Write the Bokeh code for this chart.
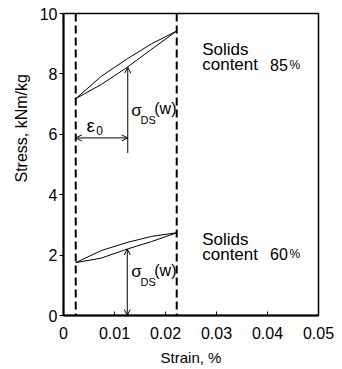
from bokeh.plotting import figure
from bokeh.models import Arrow, OpenHead, FixedTicker, Range1d, Span, Title
from bokeh.core.properties import value
from bokeh.embed import file_html
from bokeh.resources import INLINE

# ---- data ----
strain_ticks = [0, 0.01, 0.02, 0.03, 0.04, 0.05]
strain_tick_labels = ["0", "0.01", "0.02", "0.03", "0.04", "0.05"]
stress_ticks = [0, 2, 4, 6, 8, 10]

eps0 = 0.0024          # start strain (dashed line)
eps_end = 0.0222       # end strain (dashed line)
loop_strain = [0.0024, 0.0074, 0.0125, 0.0173, 0.0222]
s85_upper = [7.18, 7.92, 8.50, 9.00, 9.42]
s85_lower = [7.18, 7.65, 8.22, 8.82, 9.42]
s60_upper = [1.75, 2.15, 2.42, 2.62, 2.74]
s60_lower = [1.75, 1.90, 2.20, 2.45, 2.74]

arrow_strain = 0.0126
sigma85 = 8.22
sigma85_base = 5.38
eps_arrow_y = 5.88
sigma60 = 2.20

FONT = value("Liberation Sans")

p = figure(width=342, height=369, output_backend="svg", toolbar_location=None,
           x_range=Range1d(0, 0.05), y_range=Range1d(0, 10),
           min_border_left=63, min_border_right=24, min_border_top=13, min_border_bottom=54)
p.xgrid.visible = False
p.ygrid.visible = False
p.outline_line_color = "black"
p.outline_line_width = 1.5
p.background_fill_color = "white"
p.border_fill_color = "white"

# axes
p.xaxis.ticker = FixedTicker(ticks=strain_ticks)
p.xaxis.major_label_overrides = {t: l for t, l in zip(strain_ticks, strain_tick_labels)}
p.yaxis.ticker = FixedTicker(ticks=stress_ticks)
for ax in (p.xaxis[0], p.yaxis[0]):
    ax.axis_line_width = 2
    ax.axis_line_color = "black"
    ax.major_tick_line_color = "black"
    ax.major_tick_line_width = 1
    ax.minor_tick_line_color = None
    ax.major_label_text_font = "Liberation Sans"
    ax.major_label_text_font_size = "16px"
    ax.major_label_text_color = "black"
p.xaxis.major_tick_in = 4
p.xaxis.major_tick_out = 0
p.xaxis.major_label_standoff = 11
p.xaxis.axis_label = "Strain, %"
p.xaxis.axis_label_text_font = "Liberation Sans"
p.xaxis.axis_label_text_font_size = "15px"
p.xaxis.axis_label_text_font_style = "normal"
p.xaxis.axis_label_text_color = "black"
p.xaxis.axis_label_standoff = 7
p.yaxis.major_tick_in = 0
p.yaxis.major_tick_out = 4
p.yaxis.major_label_standoff = 2

ytitle = Title(text="Stress, kNm/kg", align="left", offset=133, standoff=14,
               text_font="Liberation Sans", text_font_size="16px",
               text_font_style="normal", text_color="black")
p.add_layout(ytitle, "left")

# dashed strain limits
for loc in (eps0, eps_end):
    p.add_layout(Span(location=loc, dimension="height", line_color="black",
                      line_width=2, line_dash="8 4"))

# hysteresis loops
for ys in (s85_upper, s85_lower, s60_upper, s60_lower):
    p.line(loop_strain, ys, line_color="black", line_width=1)

# arrows
head = lambda: OpenHead(size=6, line_width=1, line_color="black")
p.add_layout(Arrow(end=head(), x_start=arrow_strain, y_start=sigma85_base,
                   x_end=arrow_strain, y_end=sigma85, line_width=1))
p.add_layout(Arrow(start=head(), end=head(), x_start=eps0, y_start=eps_arrow_y,
                   x_end=arrow_strain, y_end=eps_arrow_y, line_width=1))
p.add_layout(Arrow(start=head(), end=head(), x_start=arrow_strain - 0.0001, y_start=0,
                   x_end=arrow_strain - 0.0001, y_end=sigma60, line_width=1))

# annotations
def txt(x, y, s, size, baseline="middle"):
    p.text(x=[x], y=[y], text=[s], text_font=FONT, text_font_size=size,
           text_baseline=baseline, text_align="left", text_color="black")

txt(0.0045, 6.29, "ε", "19px")
txt(0.0064, 6.14, "0", "12px")
for yb in (6.79, 1.45):
    txt(0.0133, yb, "σ", "17px")
    txt(0.0151, yb - 0.33, "DS", "11px")
    txt(0.0178, yb + 0.05, "(w)", "16px")

for (yb, pct) in ((8.81, "85"), (2.52, "60")):
    txt(0.0272, yb, "Solids", "17px", "alphabetic")
    txt(0.0272, yb - 0.5, "content", "17px", "alphabetic")
    txt(0.0405, yb - 0.5, pct, "16px", "alphabetic")
    txt(0.0443, yb - 0.5, "%", "12px", "alphabetic")

open("out.html", "w").write(file_html(p, INLINE))
